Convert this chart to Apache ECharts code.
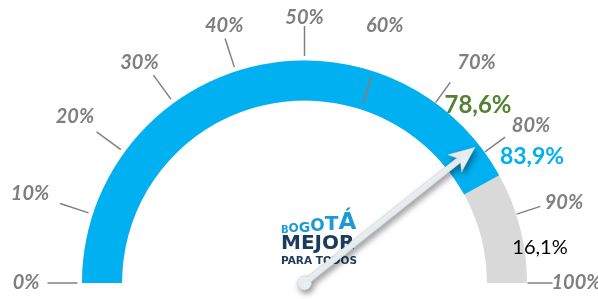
<!DOCTYPE html>
<html>
<head>
<meta charset="utf-8">
<script src="https://cdn.jsdelivr.net/npm/echarts@6/dist/echarts.min.js"></script>
<style>
  html, body { margin: 0; padding: 0; background: #fff; }
  #echart { width: 598px; height: 299px; }
</style>
</head>
<body>
<div id="echart"></div>
<script>
// datos del indicador
const tickValues = [0, 10, 20, 30, 40, 50, 60, 70, 80, 90, 100]
const tickLabels = ['0%', '10%', '20%', '30%', '40%', '50%', '60%', '70%', '80%', '90%', '100%']
const avance = [83.9]     // arco azul
const meta = [78.6]       // flecha
const restante = [16.1]   // arco gris

const center = [304.5, 283]
const fmt = v => v.toFixed(1).replace('.', ',') + '%'
const font = 'Lato, "Open Sans", sans-serif'
const logoFont = '"DejaVu Sans", sans-serif'
// angulo del gauge para un valor (0 a la izquierda, 100 a la derecha)
const ang = v => 180 - 180 * v / 100

// pequeños ajustes de posicion de las etiquetas [arriba, der, abajo, izq]
const labelPad = {
  0: [0, 5, 0, 0],
  10: [0, 8, 18, 0],
  20: [0, 0, 4, 0],
  30: [0, -7, 0, 0],
  50: [0, 0, -5, 0],
  80: [0, 0, -5, -3],
  90: [0, 0, 0, -7],
  100: [0, 0, 0, -13]
}
const labelStyle = {
  color: '#7F7F7F',
  fontFamily: font,
  fontStyle: 'italic',
  fontWeight: 'bold',
  fontSize: 20
}
const labelRich = {}
tickValues.forEach(v => {
  labelRich['t' + v] = Object.assign({}, labelStyle, { padding: labelPad[v] || [0, 0, 0, 0] })
})

// serie de marcas entre dos valores de la escala
function ticks(from, to, radius, length) {
  return {
    type: 'gauge',
    center: center,
    radius: radius,
    startAngle: ang(from),
    endAngle: from === to ? ang(to) - 0.001 : ang(to),
    min: from,
    max: from === to ? to + 1 : to,
    splitNumber: Math.max(1, (to - from) / 10),
    z: 3,
    axisLine: { show: false, lineStyle: { width: 0 } },
    axisTick: { show: false },
    splitLine: { show: true, length: length, distance: 0, lineStyle: { color: '#808080', width: 1.5 } },
    axisLabel: { show: false },
    pointer: { show: false },
    anchor: { show: false },
    title: { show: false },
    detail: { show: false },
    data: []
  }
}

const chart = echarts.init(document.getElementById('echart'))

chart.setOption({
  animation: false,
  // eje angular solo para las etiquetas de porcentaje (quedan por fuera del arco)
  polar: { center: center, radius: [0, 300] },
  radiusAxis: { show: false, min: 0, max: 1 },
  angleAxis: {
    type: 'value',
    min: 0,
    max: 200,
    interval: 10,
    startAngle: 180,
    clockwise: true,
    axisLine: { show: false },
    axisTick: { show: false },
    splitLine: { show: false },
    axisLabel: Object.assign({}, labelStyle, {
      margin: -40,
      rich: labelRich,
      formatter: v => {
        const i = tickValues.indexOf(Math.round(v))
        return i < 0 ? '' : '{t' + tickValues[i] + '|' + tickLabels[i] + '}'
      }
    })
  },
  graphic: [
    // logo
    {
      type: 'text', x: 281, y: 235,
      style: {
        text: '{a|B}{b|O}{c|G}{d|O}{e|T}{f|Á}',
        verticalAlign: 'bottom',
        fill: '#1C9AD6',
        font: 'bold 12px ' + logoFont,
        rich: {
          a: { fontSize: 10, fontWeight: 'bold', fontFamily: logoFont, verticalAlign: 'bottom', fill: '#1C9AD6' },
          b: { fontSize: 12, fontWeight: 'bold', fontFamily: logoFont, verticalAlign: 'bottom', fill: '#1C9AD6' },
          c: { fontSize: 14, fontWeight: 'bold', fontFamily: logoFont, verticalAlign: 'bottom', fill: '#1C9AD6' },
          d: { fontSize: 17, fontWeight: 'bold', fontFamily: logoFont, verticalAlign: 'bottom', fill: '#1C9AD6' },
          e: { fontSize: 20, fontWeight: 'bold', fontFamily: logoFont, verticalAlign: 'bottom', fill: '#1C9AD6' },
          f: { fontSize: 23, fontWeight: 'bold', fontFamily: logoFont, verticalAlign: 'bottom', fill: '#1C9AD6' }
        }
      }
    },
    { type: 'text', x: 281, y: 254, style: { text: 'MEJOR', font: 'bold 20px ' + logoFont, fill: '#1B3A5C', verticalAlign: 'bottom' } },
    { type: 'text', x: 281, y: 267, style: { text: 'PARA TODOS', font: 'bold 10.5px ' + logoFont, fill: '#1B3A5C', verticalAlign: 'bottom' } }
  ],
  series: [
    {
      // arco principal
      type: 'gauge',
      center: center,
      radius: 222.5,
      startAngle: 180,
      endAngle: 0,
      min: 0,
      max: 100,
      progress: { show: true, width: 40, itemStyle: { color: '#00B0F0' } },
      axisLine: { lineStyle: { width: 40, color: [[1, '#D9D9D9']] } },
      axisTick: { show: false },
      splitLine: { show: false },
      axisLabel: { show: false },
      pointer: { show: false },
      anchor: { show: false },
      title: { show: false },
      detail: {
        offsetCenter: [227.5, -126],
        formatter: fmt,
        color: '#00B0F0',
        fontFamily: font,
        fontWeight: 'bold',
        fontSize: 23
      },
      data: avance.map(v => ({ value: v }))
    },
    // marcas: lado izquierdo, lado derecho y la de 60% que cae sobre el arco
    ticks(0, 50, 257, 30),
    ticks(70, 100, 248, 25),
    ticks(60, 60, 217, 27),
    {
      // restante
      type: 'gauge',
      center: center,
      radius: 222.5,
      startAngle: 180,
      endAngle: 0,
      min: 0,
      max: 100,
      axisLine: { show: false },
      axisTick: { show: false },
      splitLine: { show: false },
      axisLabel: { show: false },
      pointer: { show: false },
      anchor: { show: false },
      title: { show: false },
      detail: {
        offsetCenter: [235.5, -35],
        formatter: fmt,
        color: '#000000',
        fontFamily: font,
        fontWeight: 'normal',
        fontSize: 20
      },
      data: restante.map(v => ({ value: v }))
    },
    {
      // flecha de la meta
      type: 'gauge',
      center: center,
      radius: 222.5,
      startAngle: 180,
      endAngle: 0,
      min: 0,
      max: 100,
      z: 5,
      axisLine: { show: false },
      axisTick: { show: false },
      splitLine: { show: false },
      axisLabel: { show: false },
      pointer: {
        show: true,
        icon: 'path://M11 0 L22 26 L14 21 L14 212 A7 7 0 1 1 8 212 L8 21 L0 26 Z',
        width: 22,
        length: 225,
        offsetCenter: [0, 7],
        itemStyle: {
          color: '#EDF2F5',
          borderColor: '#C5CFD6',
          borderWidth: 0.5,
          shadowBlur: 6,
          shadowColor: 'rgba(0,0,0,0.45)',
          shadowOffsetX: 2,
          shadowOffsetY: 3
        }
      },
      anchor: { show: false },
      title: { show: false },
      detail: {
        offsetCenter: [173.5, -178],
        formatter: fmt,
        color: '#538135',
        fontFamily: font,
        fontWeight: 'bold',
        fontSize: 24
      },
      data: meta.map(v => ({ value: v }))
    }
  ]
})
</script>
</body>
</html>
